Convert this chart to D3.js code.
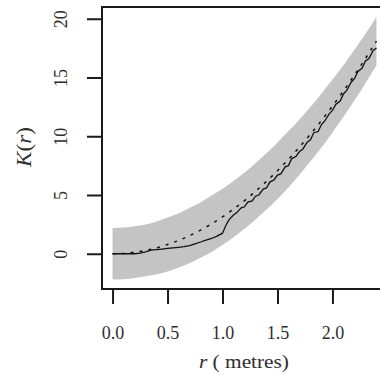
<!DOCTYPE html>
<html>
<head>
<meta charset="utf-8">
<script src="https://cdn.jsdelivr.net/npm/d3@7"></script>
<style>
	body { margin: 0; background: #fff; }
	svg { display: block; }
	svg text { font-family: "Liberation Serif", "Times New Roman", serif !important; fill: #2e2e2e; }
</style>
</head>
<body>
<div id="chart"></div>
<script>
// envelope grid (metres)
var band_r = [0, 0.1, 0.2, 0.3, 0.4, 0.5, 0.6, 0.7, 0.8, 0.9, 1.0, 1.1, 1.2, 1.3, 1.4, 1.5, 1.6, 1.7, 1.8, 1.9, 2.0, 2.1, 2.2, 2.3, 2.4];
var band_lo = [-2.20, -2.17, -2.07, -1.92, -1.75, -1.52, -1.17, -0.81, -0.34, 0.15, 0.74, 1.40, 2.12, 2.91, 3.76, 4.67, 5.64, 6.73, 7.88, 9.04, 10.32, 11.65, 13.06, 14.52, 16.05];
var band_hi = [2.20, 2.23, 2.33, 2.48, 2.75, 3.09, 3.43, 3.89, 4.36, 4.95, 5.54, 6.20, 6.92, 7.71, 8.56, 9.47, 10.44, 11.43, 12.48, 13.64, 14.82, 16.05, 17.36, 18.72, 20.15];
// theoretical K(r) (dashed)
var theo_k = [0, 0.03, 0.13, 0.28, 0.50, 0.79, 1.13, 1.54, 2.01, 2.54, 3.14, 3.80, 4.52, 5.31, 6.16, 7.07, 8.04, 9.08, 10.18, 11.34, 12.57, 13.85, 15.21, 16.62, 18.10];
// observed K(r) (solid)
var obs_r = [0, 0.05, 0.1, 0.15, 0.2, 0.25, 0.3, 0.35, 0.4, 0.45, 0.5, 0.55, 0.6, 0.65, 0.7, 0.75, 0.8, 0.85, 0.9, 0.95, 1.0, 1.03, 1.06, 1.1, 1.13, 1.17, 1.2, 1.23, 1.27, 1.3, 1.33, 1.37, 1.4, 1.43, 1.47, 1.5, 1.53, 1.57, 1.6, 1.63, 1.67, 1.7, 1.73, 1.77, 1.8, 1.83, 1.87, 1.9, 1.93, 1.97, 2.0, 2.03, 2.07, 2.1, 2.13, 2.17, 2.2, 2.23, 2.27, 2.3, 2.33, 2.37, 2.4];
var obs_k = [0, 0, 0, 0, 0, 0.05, 0.15, 0.3, 0.35, 0.4, 0.45, 0.5, 0.55, 0.6, 0.7, 0.85, 1.0, 1.15, 1.3, 1.5, 1.75, 2.4, 2.9, 3.3, 3.5, 3.9, 4.0, 4.4, 4.5, 4.9, 5.0, 5.5, 5.6, 6.1, 6.3, 6.7, 6.8, 7.4, 7.5, 8.1, 8.3, 8.7, 8.9, 9.5, 9.7, 10.3, 10.4, 11.0, 11.3, 11.9, 12.2, 12.7, 13.0, 13.6, 13.9, 14.6, 14.9, 15.5, 15.8, 16.4, 16.6, 17.3, 17.5];
var x_ticks = [0, 0.5, 1.0, 1.5, 2.0];
var y_ticks = [0, 5, 10, 15, 20];

var W = 380, H = 375;
var x = d3.scaleLinear().domain([-0.096, 2.496]).range([102, 387]);
var y = d3.scaleLinear().domain([-3.0, 21.0]).range([289, 7]);

var svg = d3.select("#chart")
			.append("svg")
			.attr("width", W)
			.attr("height", H);

var band = band_r.map(function(r, i) { return {r: r, lo: band_lo[i], hi: band_hi[i]}; });

svg.append("path")
	.datum(band)
	.attr("fill", "#c4c4c4")
	.attr("d", d3.area()
				.curve(d3.curveMonotoneX)
				.x(function(d) { return x(d.r); })
				.y0(function(d) { return y(d.lo); })
				.y1(function(d) { return y(d.hi); }));

svg.append("path")
	.datum(band_r.map(function(r, i) { return [r, theo_k[i]]; }))
	.attr("fill", "none")
	.attr("stroke", "#111")
	.attr("stroke-width", 1.5)
	.attr("stroke-dasharray", "3,6")
	.attr("d", d3.line()
				.curve(d3.curveMonotoneX)
				.x(function(d) { return x(d[0]); })
				.y(function(d) { return y(d[1]); }));

svg.append("path")
	.datum(obs_r.map(function(r, i) { return [r, obs_k[i]]; }))
	.attr("fill", "none")
	.attr("stroke", "#111")
	.attr("stroke-width", 1.3)
	.attr("d", d3.line()
				.x(function(d) { return x(d[0]); })
				.y(function(d) { return y(d[1]); }));

// box
svg.append("rect")
	.attr("x", x.range()[0])
	.attr("y", y.range()[1])
	.attr("width", x.range()[1] - x.range()[0])
	.attr("height", y.range()[0] - y.range()[1])
	.attr("fill", "none")
	.attr("stroke", "#1a1a1a")
	.attr("stroke-width", 2);

// x axis
var gx = svg.append("g")
			.attr("transform", "translate(0," + y.range()[0] + ")")
			.call(d3.axisBottom(x).tickValues(x_ticks).tickSize(15).tickFormat(d3.format(".1f")));
gx.select(".domain").remove();
gx.selectAll(".tick line").attr("stroke", "#1a1a1a").attr("stroke-width", 2);
gx.selectAll(".tick text")
	.attr("y", 0)
	.attr("dy", 0)
	.attr("transform", "translate(0,50)")
	.attr("fill", "#2e2e2e")
	.style("font-size", "18px");

// y axis
var gy = svg.append("g")
			.attr("transform", "translate(" + x.range()[0] + ",0)")
			.call(d3.axisLeft(y).tickValues(y_ticks).tickSize(15).tickFormat(d3.format("d")));
gy.select(".domain").remove();
gy.selectAll(".tick line").attr("stroke", "#1a1a1a").attr("stroke-width", 2);
gy.selectAll(".tick text")
	.attr("x", 0)
	.attr("dy", 0)
	.attr("text-anchor", "middle")
	.attr("transform", "translate(-35,0) rotate(-90)")
	.attr("fill", "#2e2e2e")
	.style("font-size", "18px");

// titles
var xt = svg.append("text")
			.attr("x", 244)
			.attr("y", 368)
			.attr("text-anchor", "middle")
			.attr("textLength", 90)
			.attr("lengthAdjust", "spacingAndGlyphs")
			.style("font-size", "19px");
xt.append("tspan").style("font-style", "italic").text("r");
xt.append("tspan").text(" ( metres)");

var yt = svg.append("text")
			.attr("transform", "translate(31,147) rotate(-90)")
			.attr("text-anchor", "middle")
			.attr("textLength", 40)
			.attr("lengthAdjust", "spacingAndGlyphs")
			.style("font-size", "21px");
yt.append("tspan").style("font-style", "italic").text("K");
yt.append("tspan").text("(");
yt.append("tspan").style("font-style", "italic").text("r");
yt.append("tspan").text(")");
</script>
</body>
</html>
